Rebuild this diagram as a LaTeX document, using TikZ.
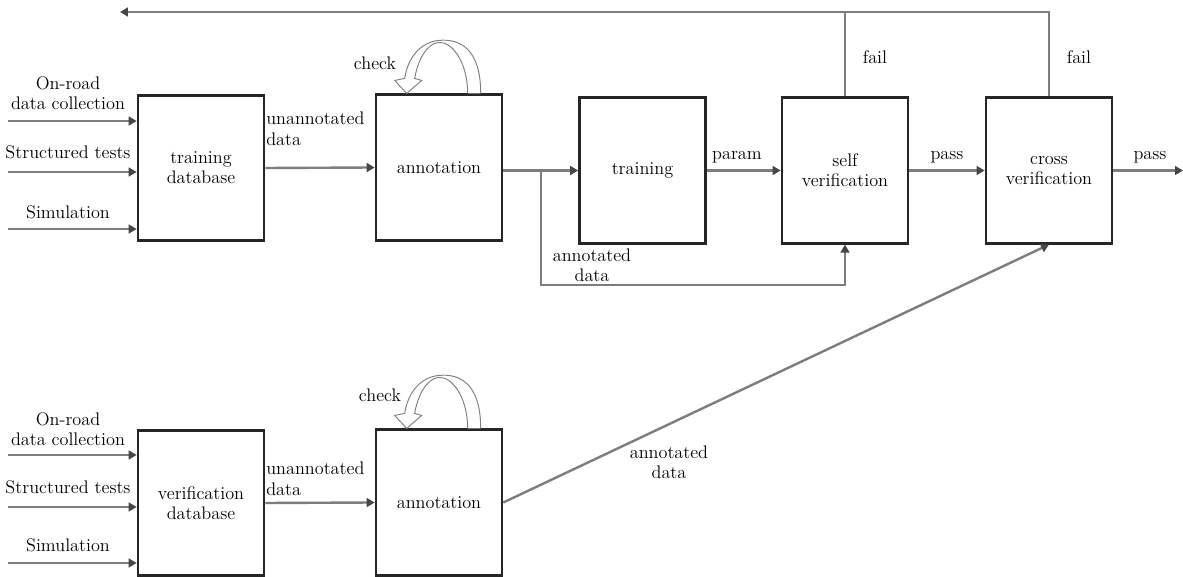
\documentclass[tikz,border=0pt]{standalone}
\usepackage{tikz}
\usetikzlibrary{arrows.meta,calc}
\definecolor{linegray}{RGB}{125,125,125}
\definecolor{tipgray}{RGB}{70,70,70}
\tikzset{
  block/.style={draw=black!85, line width=1.7pt, minimum width=2.77cm,
    minimum height=3.2cm, align=center, inner sep=0pt},
  flow/.style={draw=linegray, line width=1.5pt,
    -{Triangle[length=5pt,width=5.5pt,color=tipgray]}},
  plain/.style={draw=linegray, line width=1.5pt},
  lbl/.style={align=center, inner sep=0pt},
  looparrow/.style={draw=gray, line width=0.6pt, fill=white},
}

\begin{document}
\begin{tikzpicture}[x=0.022cm, y=-0.022cm, font=\fontsize{11.4}{12.6}\selectfont]
    \useasboundingbox (0,0) rectangle (1183,577);

    % blocks, top chain
    \node[block] (trainDB) at (201,168) {training\\database};
    \node[block] (annA) at (439,167.5) {annotation};
    \node[block] (train) at (642.5,170.5) {training};
    \node[block] (selfv) at (845,170.5) {self\\verification};
    \node[block] (crossv) at (1049,170.5) {cross\\verification};
    % blocks, bottom chain
    \node[block] (verDB) at (201,503) {verification\\database};
    \node[block] (annB) at (439,502.5) {annotation};

    % data sources
    \node[lbl] (onroadA) at (68,93) {On-road\\data collection};
    \node[lbl] (structA) at (68,152) {Structured tests};
    \node[lbl] (simA) at (68,212) {Simulation};
    \node[lbl] (onroadB) at (68,429) {On-road\\data collection};
    \node[lbl] (structB) at (68,487) {Structured tests};
    \node[lbl] (simB) at (68,545) {Simulation};
    \foreach \y/\n in {121/a,172/b,229/c} {
        \coordinate (inA\n) at (8,\y);
        \draw[flow] (inA\n) -- (inA\n -| trainDB.west);
    }
    \foreach \y/\n in {455/a,507/b,563/c} {
        \coordinate (inB\n) at (8,\y);
        \draw[flow] (inB\n) -- (inB\n -| verDB.west);
    }

    % edge labels
    \node[lbl, align=left, anchor=north west] (unA) at (266,112) {unannotated\\data};
    \node[lbl, align=left, anchor=north west] (unB) at (266,462) {unannotated\\data};
    \node[lbl] (annoA) at (592,265) {annotated\\data};
    \node[lbl] (annoB) at (669,462) {annotated\\data};
    \node[lbl] (param) at (737,157) {param};
    \node[lbl] (passA) at (947,157) {pass};
    \node[lbl] (passB) at (1150,157) {pass};
    \node[lbl] (failA) at (875,57) {fail};
    \node[lbl] (failB) at (1079,57) {fail};
    \node[lbl] (checkA) at (375,63) {check};
    \node[lbl] (checkB) at (380,395) {check};

    % connectors
    \draw[flow] (trainDB.east) -- (annA.west);
    \draw[flow] (verDB.east) -- (annB.west);
    \draw[flow] (annA.east |- train) -- (train.west);
    \draw[flow] (train.east) -- (selfv.west);
    \draw[flow] (selfv.east) -- (crossv.west);
    \coordinate (out) at (1183,170.5);
    \draw[flow] (crossv.east) -- (out);
    \coordinate (split) at (541,170.5);
    \coordinate (low) at (0,285);
    \draw[flow] (split) |- (low -| selfv) -- (selfv.south);
    \coordinate (ret) at (120,12);
    \draw[flow] (selfv.north) |- (ret);
    \draw[plain] (crossv.north) |- (selfv.north |- ret);
    \draw[flow] (annB.east) -- (crossv.south);

    % check loops
    \foreach \a in {annA,annB} {
        \begin{scope}[shift={(\a.north west)}]
            \draw[looparrow] (106,0) .. controls (106,-45) and (85,-55) .. (64,-53)
                .. controls (45,-51) and (33,-35) .. (30,-15) -- (20,-13) -- (32,0)
                -- (47,-13) -- (40,-15) .. controls (43,-33) and (52,-50) .. (64,-51)
                .. controls (78,-52) and (93,-30) .. (93,0);
        \end{scope}
    }
\end{tikzpicture}
\end{document}
